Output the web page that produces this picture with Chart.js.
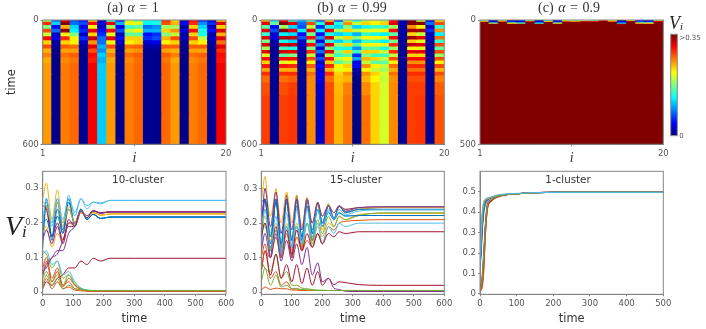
<!DOCTYPE html>
<html>
<head>
<meta charset="utf-8">
<script src="https://cdn.jsdelivr.net/npm/chart.js@4"></script>
<style>
  html, body { margin: 0; background: #fff; overflow: hidden; }
  #page { position: relative; width: 706px; height: 329px; filter: blur(0.5px); }
  #page canvas { position: absolute; left: 0; top: 0; }
  .note { position: absolute; white-space: nowrap; font-family: "Liberation Serif", serif; color: #333; line-height: 1; }
  .note sub { font-size: 0.6em; vertical-align: baseline; position: relative; top: 0.12em; }
  .title { font-size: 14px; transform: translateX(-50%); top: 1px; word-spacing: 1px; }
</style>
</head>
<body>
<div id="page">
  <div class="note title" style="left:133px">(a) <i>α</i> = 1</div>
  <div class="note title" style="left:352px">(b) <i>α</i> = 0.99</div>
  <div class="note title" style="left:569px">(c) <i>α</i> = 0.9</div>
  <div class="note" style="left:669px;top:14px;font-size:18px;color:#222"><i>V<sub>i</sub></i></div>
  <div class="note" style="left:5px;top:212px;font-size:28px;color:#222"><i>V<sub>i</sub></i></div>
</div>
<script>
// sample times of each run, at the turning points of the oscillation
const timesA = [0, 12, 30, 48, 66, 85, 105, 125, 145, 165, 190, 220, 300, 600];
const timesB = [0, 12, 30, 48, 65, 83, 100, 116, 133, 150, 167, 185, 200, 220, 238, 255, 275, 320, 400, 600];
const timesC = [0, 3, 6, 10, 15, 20, 30, 50, 100, 200, 500];

const yTicksLow = [0, 0.1, 0.2, 0.3];
const yTicksHigh = [0, 0.1, 0.2, 0.3, 0.4, 0.5];

// V_i of oscillators 1..20 at the times above
const seriesA = [
  [.16, .25, .15, .24, .17, .26, .20, .24, .21, .225, .212, .217, .217, .217],
  [.07, .10, .04, .07, .02, .03, .01, .008, .004, .003, .003, .003, .003, .003],
  [.27, .315, .21, .295, .19, .25, .20, .235, .215, .23, .222, .226, .226, .226],
  [.06, .07, .10, .11, .15, .19, .19, .23, .215, .235, .228, .232, .232, .232],
  [.04, .06, .03, .05, .02, .05, .02, .01, .006, .005, .005, .005, .005, .005],
  [.20, .26, .19, .27, .20, .28, .22, .27, .24, .26, .255, .265, .265, .265],
  [.01, .03, .02, .04, .05, .07, .07, .09, .08, .098, .09, .098, .098, .098],
  [.13, .27, .16, .26, .18, .27, .19, .24, .21, .225, .213, .217, .217, .217],
  [.05, .09, .03, .06, .015, .04, .02, .008, .004, .003, .003, .003, .003, .003],
  [.17, .19, .13, .17, .14, .20, .19, .23, .215, .23, .222, .226, .226, .226],
  [.15, .18, .14, .19, .14, .20, .20, .235, .22, .235, .23, .232, .232, .232],
  [.12, .11, .07, .09, .04, .05, .025, .012, .006, .005, .005, .005, .005, .005],
  [.11, .12, .08, .09, .05, .06, .03, .012, .006, .004, .004, .004, .004, .004],
  [.25, .24, .16, .20, .15, .21, .19, .235, .215, .235, .228, .232, .232, .232],
  [.20, .21, .16, .22, .17, .24, .20, .235, .21, .225, .213, .217, .217, .217],
  [.01, .04, .01, .03, .01, .015, .006, .004, .003, .003, .003, .003, .003, .003],
  [.26, .25, .20, .26, .20, .24, .20, .235, .215, .23, .222, .226, .226, .226],
  [.05, .08, .10, .12, .12, .17, .19, .235, .215, .235, .228, .232, .232, .232],
  [.02, .05, .02, .04, .01, .02, .01, .007, .005, .005, .005, .005, .005, .005],
  [.20, .27, .20, .27, .21, .27, .23, .27, .25, .26, .258, .265, .265, .265]
];
const seriesB = [
  [.21, .27, .14, .27, .13, .27, .15, .27, .16, .27, .18, .26, .20, .255, .215, .25, .232, .24, .245, .245],
  [.10, .14, .04, .06, .02, .03, .01, .01, .005, .005, .005, .005, .005, .005, .005, .005, .005, .005, .005, .005],
  [.26, .335, .16, .30, .11, .285, .12, .28, .13, .275, .14, .26, .18, .255, .21, .25, .23, .24, .245, .245],
  [.12, .27, .10, .27, .10, .28, .10, .28, .12, .27, .15, .26, .19, .25, .21, .25, .235, .245, .247, .247],
  [.09, .07, .06, .11, .04, .06, .02, .02, .012, .01, .008, .006, .006, .005, .005, .005, .005, .005, .005, .005],
  [.13, .24, .17, .27, .15, .26, .15, .26, .15, .25, .17, .24, .19, .235, .21, .23, .222, .222, .222, .222],
  [.06, .12, .05, .11, .04, .08, .03, .08, .025, .07, .02, .06, .02, .04, .022, .03, .028, .022, .02, .02],
  [.20, .27, .12, .27, .12, .27, .13, .27, .15, .27, .17, .26, .20, .25, .21, .25, .23, .24, .24, .24],
  [.06, .12, .10, .16, .10, .17, .10, .16, .12, .15, .13, .17, .14, .19, .18, .20, .205, .208, .21, .21],
  [.17, .22, .15, .20, .11, .20, .13, .20, .12, .20, .14, .19, .16, .20, .19, .22, .21, .225, .228, .228],
  [.12, .17, .10, .17, .09, .15, .09, .14, .08, .13, .05, .085, .03, .04, .012, .008, .003, .002, .002, .002],
  [.17, .20, .12, .18, .13, .19, .13, .19, .14, .20, .15, .21, .17, .22, .19, .22, .21, .222, .23, .23],
  [.18, .19, .13, .18, .12, .19, .13, .19, .14, .20, .13, .20, .14, .19, .17, .20, .19, .20, .20, .20],
  [.16, .20, .13, .19, .11, .18, .11, .18, .12, .17, .13, .17, .14, .17, .16, .175, .17, .175, .175, .175],
  [.26, .27, .16, .26, .14, .26, .15, .25, .16, .25, .17, .24, .19, .23, .21, .23, .22, .222, .222, .222],
  [.006, .015, .008, .012, .01, .01, .006, .006, .005, .005, .005, .005, .005, .005, .005, .005, .005, .005, .005, .005],
  [.30, .30, .22, .29, .20, .29, .20, .28, .19, .27, .20, .26, .22, .25, .23, .25, .24, .245, .245, .245],
  [.17, .30, .19, .29, .17, .27, .18, .27, .18, .27, .20, .26, .22, .25, .23, .25, .24, .245, .247, .247],
  [.03, .07, .02, .05, .015, .02, .01, .01, .008, .007, .006, .005, .005, .005, .005, .005, .005, .005, .005, .005],
  [.19, .24, .13, .22, .11, .23, .13, .24, .14, .24, .16, .24, .19, .24, .21, .24, .225, .235, .238, .238]
];
const seriesC = [
  [.14, .20, .31, .40, .44, .455, .47, .48, .49, .497, .497],
  [.02, .03, .05, .16, .33, .42, .46, .478, .49, .497, .497],
  [.16, .22, .34, .42, .45, .46, .47, .48, .49, .497, .497],
  [.03, .04, .07, .18, .34, .43, .46, .478, .49, .497, .497],
  [.02, .02, .05, .14, .31, .42, .455, .476, .49, .497, .497],
  [.15, .24, .36, .43, .46, .465, .472, .482, .49, .497, .497],
  [.01, .02, .04, .12, .30, .41, .455, .476, .49, .497, .497],
  [.13, .19, .30, .39, .44, .455, .47, .48, .49, .497, .497],
  [.02, .03, .06, .17, .34, .43, .46, .478, .49, .497, .497],
  [.17, .23, .35, .42, .45, .46, .47, .48, .49, .497, .497],
  [.15, .21, .32, .41, .45, .46, .47, .48, .49, .497, .497],
  [.16, .26, .38, .44, .46, .465, .472, .482, .49, .497, .497],
  [.14, .25, .37, .44, .46, .465, .472, .482, .49, .497, .497],
  [.25, .30, .38, .43, .46, .465, .472, .482, .49, .497, .497],
  [.18, .22, .33, .41, .45, .46, .47, .48, .49, .497, .497],
  [.01, .02, .03, .10, .29, .41, .45, .474, .49, .497, .497],
  [.20, .28, .37, .43, .46, .465, .472, .482, .49, .497, .497],
  [.03, .05, .09, .20, .35, .44, .46, .478, .49, .497, .497],
  [.02, .04, .08, .19, .34, .43, .46, .478, .49, .497, .497],
  [.16, .26, .40, .45, .465, .47, .475, .485, .492, .497, .497]
];

const lineColors = ['#0072BD', '#D95319', '#EDB120', '#7E2F8E', '#77AC30', '#4DBEEE', '#A2142F'];
const colorStops = [0, 0.11, 0.125, 0.375, 0.625, 0.875, 1];
const jetMax = 0.3;   // V_i where the heat map saturates
const tickFont = { family: 'DejaVu Sans', size: 8.5 };
const tickGrey = '#555';
const spineGrey = '#858585';
const page = document.getElementById('page');

function jet(t) {
    const c = v => Math.round(255 * Math.min(1, Math.max(0, v)));
    return `rgb(${c(1.5 - Math.abs(4 * t - 3))},${c(1.5 - Math.abs(4 * t - 2))},${c(1.5 - Math.abs(4 * t - 1))})`;
}

// Box round the plot area, plus the label that sits inside it
const framePlugin = {
    id: 'frame',
    afterDraw(chart, args, opts) {
        const { ctx, chartArea: a } = chart;
        ctx.save();
        ctx.strokeStyle = spineGrey;
        ctx.lineWidth = 1;
        ctx.strokeRect(a.left, a.top, a.right - a.left, a.bottom - a.top);
        if (opts.label) {
            ctx.fillStyle = '#333';
            ctx.font = '10.3px "DejaVu Sans"';
            ctx.textAlign = 'center';
            ctx.textBaseline = 'middle';
            ctx.fillText(opts.label, opts.labelX, opts.labelY);
        }
        ctx.restore();
    }
};

function newCanvas() {
    const canvas = document.createElement('canvas');
    canvas.width = 706;
    canvas.height = 329;
    canvas.style.width = '706px';
    canvas.style.height = '329px';
    page.appendChild(canvas);
    return canvas;
}

// The plot area is pinned: fixed axis boxes, and the padding makes up the rest
function pinned(box, axisW, axisH) {
    return {
        padding: {
            left: box.left - axisW,
            top: box.top,
            right: 706 - box.right,
            bottom: 329 - box.bottom - axisH
        }
    };
}

function axisLook(extra) {
    return Object.assign({
        border: { display: true, color: spineGrey },
        grid: { drawOnChartArea: false, color: spineGrey, tickLength: 2 },
        ticks: { font: tickFont, color: tickGrey, padding: 2, maxRotation: 0, autoSkip: false }
    }, extra);
}

function heatmap(box, times, series, showTimeTitle) {
    const columns = series.map((s, i) => String(i + 1));
    const last = times[times.length - 1];
    const edge = k => k <= 0 ? 0 : k >= times.length ? last : (times[k - 1] + times[k]) / 2;
    const datasets = times.map((t, k) => ({
        data: columns.map(() => [edge(k), edge(k + 1)]),
        backgroundColor: series.map(s => jet(Math.min(1, s[k] / jetMax))),
        borderWidth: 0,
        inflateAmount: 0.6,   // overlap neighbours so no seams show
        grouped: false,
        barPercentage: 1,
        categoryPercentage: 1
    }));
    new Chart(newCanvas(), {
        type: 'bar',
        data: { labels: columns, datasets },
        plugins: [framePlugin],
        options: {
            responsive: false,
            animation: false,
            layout: pinned(box, 42, 22),
            plugins: { legend: { display: false }, tooltip: { enabled: false }, frame: {} },
            scales: {
                x: { display: false },
                cols: axisLook({
                    type: 'linear', position: 'bottom', min: 1, max: 20, offset: false,
                    afterBuildTicks: s => { s.ticks = [{ value: 1 }, { value: 20 }]; },
                    afterFit: s => { s.height = 22; },
                    title: { display: true, text: 'i', padding: 0, color: '#333', font: { family: 'Liberation Serif', style: 'italic', size: 14 } }
                }),
                y: axisLook({
                    reverse: true, min: 0, max: last,
                    afterBuildTicks: s => { s.ticks = [{ value: 0 }, { value: last }]; },
                    afterFit: s => { s.width = 42; },
                    title: { display: showTimeTitle, text: 'time', padding: { top: 5, bottom: 0 }, color: '#333', font: { family: 'DejaVu Sans', size: 11.4 } }
                })
            }
        }
    });
}

function linePanel(box, times, series, label, labelX, yRange, yTicks) {
    const datasets = series.map((s, i) => ({
        data: times.map((t, k) => ({ x: t, y: s[k] })),
        borderColor: lineColors[i % lineColors.length],
        borderWidth: 1,
        pointRadius: 0,
        cubicInterpolationMode: 'monotone',
        order: series.length - i   // later series on top
    }));
    new Chart(newCanvas(), {
        type: 'line',
        data: { datasets },
        plugins: [framePlugin],
        options: {
            responsive: false,
            animation: false,
            layout: pinned(box, 42, 31.5),
            plugins: {
                legend: { display: false },
                tooltip: { enabled: false },
                frame: { label, labelX, labelY: box.top + 9 }
            },
            scales: {
                x: axisLook({
                    type: 'linear', min: 0, max: times[times.length - 1],
                    afterFit: s => { s.height = 31.5; },
                    ticks: Object.assign(axisLook().ticks, { stepSize: 100 }),
                    title: { display: true, text: 'time', padding: 0, color: '#333', font: { family: 'DejaVu Sans', size: 11.4 } }
                }),
                y: axisLook({
                    min: yRange[0], max: yRange[1],
                    afterBuildTicks: s => { s.ticks = yTicks.map(value => ({ value })); },
                    afterFit: s => { s.width = 42; },
                    ticks: Object.assign(axisLook().ticks, { callback: v => v === 0 ? '0' : v.toFixed(1) })
                })
            }
        }
    });
}

function colorbar(box) {
    new Chart(newCanvas(), {
        type: 'bar',
        data: {
            labels: [''],
            datasets: [{
                data: [[0, 0.363]],
                barPercentage: 1,
                categoryPercentage: 1,
                backgroundColor: ctx => {
                    const a = ctx.chart.chartArea;
                    if (!a) return '#000';
                    const g = ctx.chart.ctx.createLinearGradient(0, a.bottom, 0, a.top);
                    colorStops.forEach(s => g.addColorStop(s, jet(s)));
                    return g;
                }
            }]
        },
        plugins: [framePlugin],
        options: {
            responsive: false,
            animation: false,
            layout: pinned({ left: box.left, top: box.top, right: box.right + 26, bottom: box.bottom }, 0, 0),
            plugins: { legend: { display: false }, tooltip: { enabled: false }, frame: {} },
            scales: {
                x: { display: false },
                y: {
                    position: 'right', min: 0, max: 0.363,
                    border: { display: false },
                    grid: { drawOnChartArea: false, drawTicks: false },
                    afterBuildTicks: s => { s.ticks = [{ value: 0 }, { value: 0.35 }]; },
                    afterFit: s => { s.width = 26; },
                    ticks: {
                        font: { family: 'DejaVu Sans', size: 7 }, color: tickGrey, padding: 2,
                        callback: v => v === 0 ? '0' : '>0.35'
                    }
                }
            }
        }
    });
}

heatmap({ left: 42.7, top: 20, right: 226, bottom: 144.3 }, timesA, seriesA, true);
heatmap({ left: 261.3, top: 20, right: 444.3, bottom: 144.3 }, timesB, seriesB, false);
heatmap({ left: 480, top: 20, right: 663.3, bottom: 144.3 }, timesC, seriesC, false);
colorbar({ left: 670.7, top: 34.3, right: 677.3, bottom: 135.7 });

linePanel({ left: 42.7, top: 171.3, right: 226, bottom: 294.3 }, timesA, seriesA, '10-cluster', 138, [-0.006, 0.349], yTicksLow);
linePanel({ left: 261.3, top: 171.3, right: 444.3, bottom: 294.3 }, timesB, seriesB, '15-cluster', 356, [-0.006, 0.35], yTicksLow);
linePanel({ left: 480, top: 171.3, right: 663.3, bottom: 294.3 }, timesC, seriesC, '1-cluster', 568, [-0.002, 0.6], yTicksHigh);
</script>
</body>
</html>
